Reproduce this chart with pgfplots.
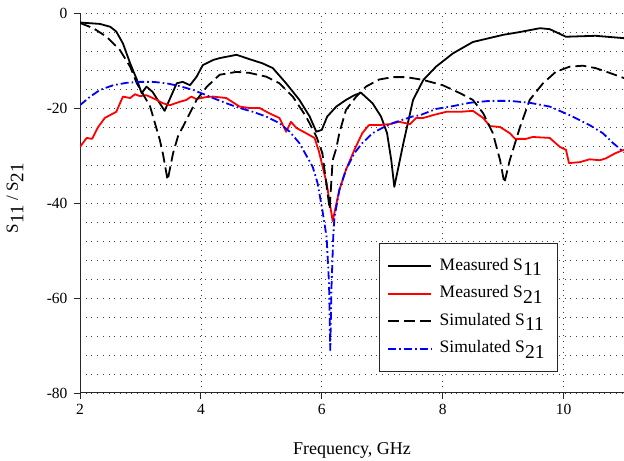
\documentclass[border=0pt]{standalone}
\usepackage{fontspec}
\setmainfont{Liberation Serif}
\usepackage{graphicx}
\usepackage{pgfplots}
\pgfplotsset{compat=1.18}
\newcommand{\sub}[1]{\kern0.3pt\raisebox{-0.33em}{\scalebox{1.12}{#1}}}
\begin{document}
\begin{tikzpicture}
\begin{axis}[
  width=544pt, height=380pt, scale only axis,
  xmin=2, xmax=11, ymin=-80, ymax=0,
  xtick={2,4,6,8,10}, ytick={-80,-60,-40,-20,0},
  minor y tick num=4,
  grid=both,
  major grid style={black!75, line width=0.7pt, dash pattern=on 0.8pt off 4.9pt},
  minor grid style={black!75, line width=0.7pt, dash pattern=on 0.8pt off 4.9pt},
  axis x line*=bottom, axis y line*=left,
  axis line style={-, line width=1pt, black!85},
  tick align=outside, major tick length=6pt, minor tick length=0pt,
  tick style={black!85, line width=0.9pt},
  /pgf/number format/assume math mode=true,
  ticklabel style={font=\fontsize{15.5}{18}\selectfont},
  xticklabel style={yshift=-2pt},
  yticklabel style={xshift=-3pt},
  xlabel={Frequency, GHz},
  xlabel style={font=\fontsize{18}{21}\selectfont, at={(rel axis cs:0.5,0)}, anchor=base, yshift=-61pt},
  legend style={at={(0.5496,0.055)}, anchor=south west, draw=black!85, line width=0.9pt,
    font=\fontsize{17.5}{20}\selectfont, inner xsep=8pt, inner ysep=12pt, row sep=5.5pt, column sep=0pt,
    nodes={inner ysep=2pt, inner xsep=4.5pt, text height=13pt, text depth=5pt}},
  legend cell align=left,
  legend image code/.code={\draw[#1] (0pt,0pt) -- (43pt,0pt);},
  every axis plot/.append style={line width=1.8pt, line join=round},
  clip=true,
]
\addplot[black] coordinates {
(2,-2.0) (2.33,-2.3) (2.5,-2.9) (2.6,-3.9) (2.71,-6.4) (2.83,-10.6) (2.94,-14) (3.02,-16.9) (3.1,-15.5) (3.2,-16.6) (3.4,-20.6) (3.6,-14.8) (3.7,-14.5) (3.82,-15.2) (3.93,-13.4) (4.03,-11) (4.2,-9.9) (4.31,-9.5) (4.59,-8.8) (4.8,-9.7) (5.02,-10.6) (5.19,-11.6) (5.41,-14.8) (5.63,-18.3) (5.8,-21.8) (5.91,-25) (6.0,-24.6) (6.09,-21.8) (6.24,-19.7) (6.4,-18.3) (6.54,-17.3) (6.65,-16.8) (6.84,-19) (6.98,-21.8) (7.08,-25.3) (7.15,-31) (7.2,-36.6) (7.35,-27.4) (7.51,-18.3) (7.68,-14.1) (7.89,-11.3) (8.17,-8.5) (8.5,-6.1) (9.0,-4.6) (9.28,-4) (9.61,-3.2) (9.77,-3.4) (10.04,-5) (10.53,-4.8) (11,-5.3)
};
\addlegendentry{\hspace{3pt}Measured S\sub{11}\hspace{12pt}}
\addplot[red] coordinates {
(2,-28.2) (2.11,-26.3) (2.2,-26.5) (2.3,-24) (2.41,-22.1) (2.6,-20.8) (2.71,-17.6) (2.83,-17.9) (2.91,-17.1) (2.99,-17.5) (3.1,-17.3) (3.27,-18.3) (3.37,-19) (3.49,-19.4) (3.65,-18.7) (3.76,-18.3) (3.84,-17.6) (3.92,-18.1) (4.09,-17.7) (4.2,-17.6) (4.42,-17.9) (4.64,-19.7) (4.8,-20) (4.97,-20) (5.13,-21.1) (5.3,-22.1) (5.41,-25) (5.49,-22.9) (5.58,-24.2) (5.74,-25.3) (5.88,-26.3) (5.95,-29) (6.08,-35.8) (6.18,-43.8) (6.29,-37.3) (6.4,-33) (6.54,-28.8) (6.67,-25.3) (6.78,-23.6) (6.95,-23.6) (7.12,-23.4) (7.28,-22.9) (7.46,-23.4) (7.56,-22.1) (7.68,-22.1) (7.84,-21.5) (8.06,-20.8) (8.29,-20.8) (8.5,-20.6) (8.67,-22.1) (8.78,-23.8) (8.95,-24) (9.11,-25.3) (9.2,-26.5) (9.38,-26.5) (9.49,-26.1) (9.77,-26.3) (9.94,-28.2) (10.04,-28.8) (10.09,-31.6) (10.27,-31.4) (10.43,-30.8) (10.6,-31) (10.7,-30.6) (10.86,-29.5) (11,-28.8)
};
\addlegendentry{\hspace{3pt}Measured S\sub{21}\hspace{12pt}}
\addplot[black, dash pattern=on 11pt off 5pt] coordinates {
(2,-2.1) (2.22,-3.2) (2.44,-5) (2.66,-7.8) (2.83,-11.3) (2.94,-14.8) (3.04,-17) (3.16,-19.7) (3.32,-26.7) (3.37,-29.5) (3.45,-35.2) (3.54,-29.5) (3.62,-26) (3.76,-22.5) (3.93,-18.3) (4.1,-15.5) (4.31,-13) (4.59,-12.4) (4.8,-12.6) (5.08,-13.4) (5.3,-14.8) (5.52,-17.6) (5.74,-21.8) (5.91,-26) (6.01,-29.5) (6.13,-41.3) (6.18,-31) (6.24,-28.5) (6.29,-25.3) (6.4,-20.4) (6.57,-17.6) (6.73,-15.5) (6.95,-14) (7.17,-13.5) (7.4,-13.5) (7.68,-14.1) (8.0,-15.2) (8.29,-16.9) (8.5,-18.3) (8.67,-21.1) (8.83,-25.3) (8.95,-31) (9.02,-35.8) (9.11,-31) (9.28,-24) (9.44,-18.3) (9.66,-14.8) (9.87,-12.4) (10.1,-11.3) (10.32,-11.1) (10.53,-11.6) (10.76,-12.6) (11,-13.7)
};
\addlegendentry{\hspace{3pt}Simulated S\sub{11}\hspace{12pt}}
\addplot[blue, dash pattern=on 8pt off 3pt on 1.6pt off 3pt] coordinates {
(2,-19.4) (2.17,-17.6) (2.33,-16.2) (2.55,-15.2) (2.77,-14.7) (2.99,-14.5) (3.21,-14.5) (3.43,-14.8) (3.65,-15.4) (3.87,-16.2) (4.09,-17.3) (4.2,-17.9) (4.42,-19) (4.64,-20) (4.86,-20.8) (5.08,-21.8) (5.3,-23.2) (5.47,-25) (5.63,-27.4) (5.74,-29.9) (5.85,-32.4) (5.93,-35.8) (6.01,-41.5) (6.08,-47.2) (6.12,-57) (6.14,-71) (6.16,-58) (6.19,-47) (6.21,-43) (6.29,-37.3) (6.4,-33) (6.54,-29.5) (6.67,-27.4) (6.84,-25.3) (7.0,-24.2) (7.17,-23.2) (7.33,-22.5) (7.5,-21.8) (7.63,-21.5) (7.89,-20.2) (8.17,-19.6) (8.45,-18.9) (8.78,-18.5) (9.11,-18.5) (9.44,-18.9) (9.77,-19.7) (10.1,-21.5) (10.43,-23.6) (10.65,-25.3) (10.82,-27.4) (11,-29.3)
};
\addlegendentry{\hspace{3pt}Simulated S\sub{21}\hspace{12pt}}
\path (rel axis cs:0,0.513) coordinate (ylab);
\path (rel axis cs:0,0) ++(-80pt,-68pt) coordinate (bbl);
\path (rel axis cs:1,1) ++(0pt,13pt) coordinate (btr);
\end{axis}
\node[font=\fontsize{17}{20}\selectfont, rotate=90, anchor=center] at ([xshift=-65pt]ylab) {S\sub{11} / S\sub{21}};
\pgfresetboundingbox
\path[use as bounding box] (bbl) rectangle (btr);
\end{tikzpicture}
\end{document}
